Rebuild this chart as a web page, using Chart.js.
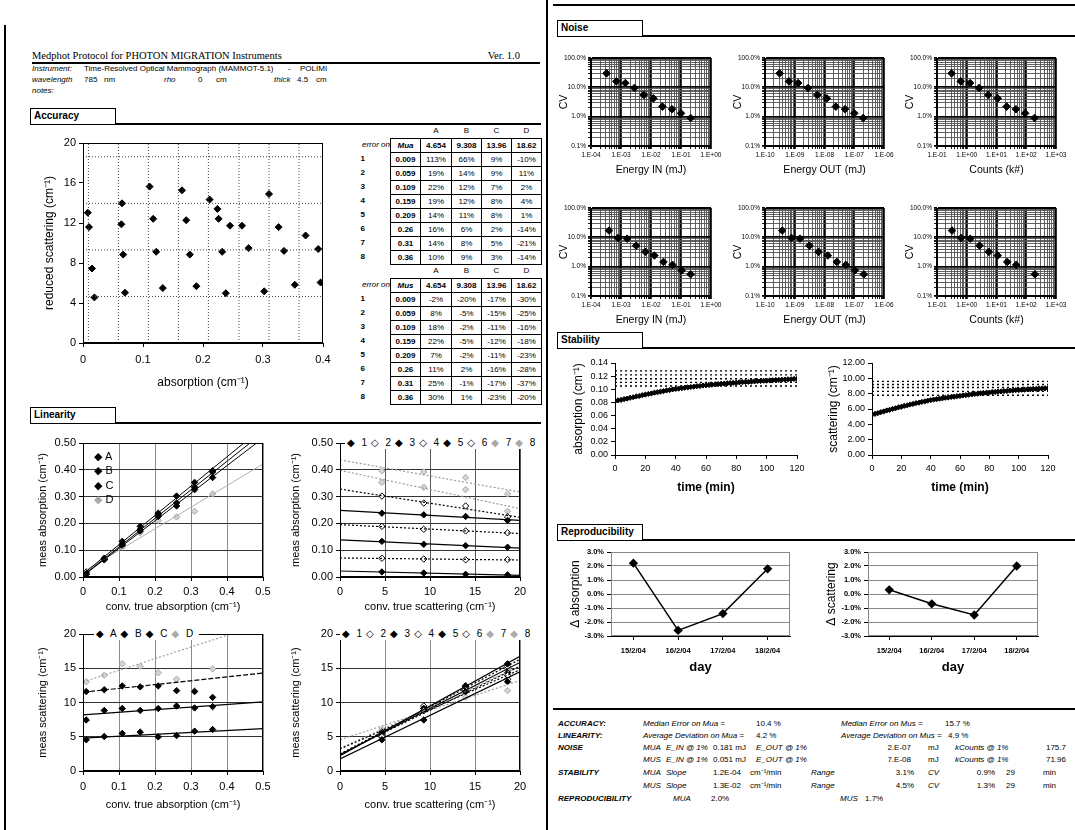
<!DOCTYPE html>
<html>
<head>
<meta charset="utf-8">
<script src="https://cdn.jsdelivr.net/npm/chart.js"></script>
<style>
html,body{margin:0;padding:0;background:#fff}
body{width:1075px;height:830px;position:relative;overflow:hidden;font-family:"Liberation Sans",Arial,sans-serif;color:#000}
.t{position:absolute;white-space:nowrap;line-height:1;z-index:3}
canvas{position:absolute;z-index:1}
.rule{position:absolute;background:#000;z-index:2}
.hbox{position:absolute;border:1.5px solid #000;border-bottom:none;background:#fff;font-weight:bold;font-size:10px;line-height:14px;padding-left:3px;box-sizing:border-box;z-index:3}
.cell{position:absolute;box-sizing:border-box;font-size:8px;line-height:13px;text-align:center;z-index:3;white-space:nowrap}
.box{border:1px solid #000}
.leg{position:absolute;z-index:4;background:#fff;font-size:10px;line-height:12px;white-space:nowrap;padding:0 2px}
.leg span{margin-right:4px}
</style>
</head>
<body>
<script>
// ================= DATA =================
const muaTrue = [0.009, 0.059, 0.109, 0.159, 0.209, 0.26, 0.31, 0.36];
const musTrue = [4.654, 9.308, 13.96, 18.62];
const phantomNames = ['A', 'B', 'C', 'D'];
const mixNames = ['1', '2', '3', '4', '5', '6', '7', '8'];

// error tables (percent)
const errMuaA = [113, 19, 22, 19, 14, 16, 14, 10];
const errMuaB = [66, 14, 12, 12, 11, 6, 8, 9];
const errMuaC = [9, 9, 7, 8, 8, 2, 5, 3];
const errMuaD = [-10, 11, 2, 4, 1, -14, -21, -14];
const errMusA = [-2, 8, 18, 22, 7, 11, 25, 30];
const errMusB = [-20, -5, -2, -5, -2, 2, -1, 1];
const errMusC = [-17, -15, -11, -12, -11, -16, -17, -23];
const errMusD = [-30, -25, -16, -18, -23, -28, -37, -20];

// measured values per phantom series (rows = mua levels 1..8)
const measMuaA = [0.019, 0.070, 0.133, 0.189, 0.238, 0.302, 0.353, 0.396];
const measMuaB = [0.015, 0.067, 0.122, 0.178, 0.232, 0.276, 0.335, 0.392];
const measMuaC = [0.010, 0.064, 0.117, 0.172, 0.226, 0.265, 0.326, 0.371];
const measMuaD = [0.008, 0.065, 0.111, 0.165, 0.211, 0.224, 0.245, 0.310];
const measMusA = [4.56, 5.03, 5.49, 5.68, 4.98, 5.17, 5.82, 6.05];
const measMusB = [7.45, 8.84, 9.12, 8.84, 9.12, 9.49, 9.21, 9.40];
const measMusC = [11.59, 11.87, 12.42, 12.28, 12.42, 11.73, 11.59, 10.75];
const measMusD = [13.03, 13.97, 15.64, 15.27, 14.34, 13.41, 11.73, 14.90];

// trend line end values
const trendAbsX = [0, 0.5];
const trendScaX = [0, 20];
const trendTL = [[0.011, 0.558], [0.0055, 0.5385], [0.0043, 0.5183], [0.0188, 0.4216]];
const trendTR = [[0.0224, 0.0062], [0.0710, 0.0633], [0.1385, 0.1080], [0.1955, 0.1620], [0.2485, 0.2111], [0.3280, 0.2227], [0.3980, 0.2549], [0.4370, 0.3171]];
const trendBL = [[4.8, 6.2], [8.2, 10.1], [11.5, 14.3], [13.0, 21.5]];
const trendBR = [[1.77, 14.47], [2.47, 15.29], [2.23, 16.73], [2.47, 16.30], [2.37, 15.85], [3.21, 14.79], [4.56, 13.20], [3.30, 15.29]];

// noise
const noiseMuaCV = [0.30, 0.16, 0.14, 0.095, 0.055, 0.042, 0.022, 0.018, 0.013, 0.009];
const noiseMusCV = [0.17, 0.095, 0.09, 0.052, 0.032, 0.024, 0.0145, 0.0115, 0.0075, 0.0055];
const noiseMusCntCV = [0.17, 0.095, 0.09, 0.052, 0.032, 0.024, 0.0145, 0.0115, 0.0055];
const eInMua = [3.3e-4, 7e-4, 1.4e-3, 2.8e-3, 5.8e-3, 1.2e-2, 2.4e-2, 5e-2, 1.0e-1, 2.1e-1];
const eOutMua = [3.1e-10, 6.4e-10, 1.3e-9, 2.8e-9, 5.7e-9, 1.2e-8, 2.4e-8, 4.9e-8, 1.0e-7, 2.0e-7];
const cntMua = [0.31, 0.63, 1.3, 2.6, 5.3, 11, 22, 45, 92, 190];
const eInMus = [4e-4, 8e-4, 1.6e-3, 3.2e-3, 6.5e-3, 1.3e-2, 2.6e-2, 5.2e-2, 1.05e-1, 2.1e-1];
const eOutMus = [3.8e-10, 7.8e-10, 1.5e-9, 3.1e-9, 6.3e-9, 1.3e-8, 2.6e-8, 5.2e-8, 1.05e-7, 2.1e-7];
const cntMus = [0.32, 0.65, 1.3, 2.7, 5.5, 11, 23, 46, 195];

// stability
const stabTime = [0,2,4,6,8,10,12,14,16,18,20,22,24,26,28,30,32,34,36,38,40,42,44,46,48,50,52,54,56,58,60,62,64,66,68,70,72,74,76,78,80,82,84,86,88,90,92,94,96,98,100,102,104,106,108,110,112,114,116,118,120];
const stabMua = [0.0820,0.0832,0.0838,0.0851,0.0858,0.0871,0.0879,0.0891,0.0898,0.0911,
  0.0919,0.0929,0.0937,0.0948,0.0955,0.0965,0.0972,0.0982,0.0988,0.0998,
  0.1004,0.1011,0.1016,0.1024,0.1028,0.1035,0.1040,0.1047,0.1050,0.1057,
  0.1060,0.1066,0.1069,0.1075,0.1078,0.1084,0.1086,0.1091,0.1094,0.1099,
  0.1101,0.1106,0.1108,0.1112,0.1114,0.1118,0.1120,0.1124,0.1126,0.1130,
  0.1131,0.1135,0.1137,0.1141,0.1142,0.1146,0.1148,0.1152,0.1153,0.1157,0.1160];
const stabMus = [5.25,5.37,5.46,5.59,5.68,5.81,5.89,6.01,6.09,6.21,
  6.29,6.41,6.48,6.59,6.66,6.77,6.83,6.93,6.99,7.09,
  7.15,7.23,7.27,7.35,7.39,7.47,7.50,7.57,7.60,7.67,
  7.70,7.77,7.80,7.87,7.90,7.97,7.99,8.05,8.07,8.13,
  8.15,8.21,8.23,8.28,8.29,8.34,8.35,8.40,8.41,8.46,
  8.47,8.51,8.52,8.56,8.57,8.61,8.62,8.66,8.67,8.70,8.72];
const stabMuaRef = [0.105, 0.1105, 0.116, 0.122, 0.128];
const stabMusRef = [7.8, 8.3, 8.8, 9.2, 9.6];

// reproducibility (percent)
const reproDays = ['15/2/04', '16/2/04', '17/2/04', '18/2/04'];
const reproMua = [2.2, -2.6, -1.4, 1.8];
const reproMus = [0.3, -0.7, -1.5, 2.0];

// ================= HELPERS =================
function txt(x, y, s, o) {
  o = o || {};
  const d = document.createElement('div');
  d.className = 't';
  const size = o.size || 8;
  d.style.fontSize = size + 'px';
  d.style.left = x + 'px';
  d.style.top = (y - size * 0.5) + 'px';
  if (o.italic) d.style.fontStyle = 'italic';
  if (o.bold) d.style.fontWeight = 'bold';
  if (o.family) d.style.fontFamily = o.family;
  if (o.color) d.style.color = o.color;
  if (o.align === 'right') d.style.transform = 'translateX(-100%)';
  if (o.align === 'center') d.style.transform = 'translateX(-50%)';
  d.innerHTML = s;
  document.body.appendChild(d);
  return d;
}
function rule(x, y, w, h) {
  const d = document.createElement('div');
  d.className = 'rule';
  d.style.left = x + 'px'; d.style.top = y + 'px'; d.style.width = w + 'px'; d.style.height = h + 'px';
  document.body.appendChild(d);
}
function heading(x, y, label, x2) {
  rule(x, y + 15, x2 - x, 2);
  const d = document.createElement('div');
  d.className = 'hbox';
  d.style.left = x + 'px'; d.style.top = y + 'px'; d.style.width = '86px'; d.style.height = '16px';
  d.textContent = label;
  document.body.appendChild(d);
}
function legend(x, y, html) {
  const d = document.createElement('div');
  d.className = 'leg';
  d.style.left = x + 'px'; d.style.top = (y - 6) + 'px';
  d.innerHTML = html;
  document.body.appendChild(d);
}

Chart.defaults.font.family = '"Liberation Sans", Arial, sans-serif';
Chart.defaults.color = '#000';

const framePlugin = {
  id: 'frame',
  afterDatasetsDraw(chart, args, opts) {
    if (!opts || !opts.show) return;
    const a = chart.chartArea, ctx = chart.ctx;
    ctx.save();
    ctx.strokeStyle = opts.color || '#000';
    ctx.lineWidth = opts.width || 1;
    ctx.strokeRect(Math.round(a.left) + 0.5, Math.round(a.top) + 0.5, Math.round(a.right - a.left) - 1, Math.round(a.bottom - a.top) - 1);
    ctx.restore();
  }
};
Chart.register(framePlugin);

function mk(area, pad, type, data, scales, plugins) {
  const [x0, y0, x1, y1] = area;
  const cv = document.createElement('canvas');
  const W = x1 - x0 + pad.l + pad.r, H = y1 - y0 + pad.t + pad.b;
  cv.width = W; cv.height = H;
  cv.style.left = (x0 - pad.l) + 'px'; cv.style.top = (y0 - pad.t) + 'px';
  cv.style.width = W + 'px'; cv.style.height = H + 'px';
  document.body.appendChild(cv);
  scales.x.afterFit = s => { s.height = pad.b; s.paddingLeft = 0; s.paddingRight = 0; };
  scales.y.afterFit = s => { s.width = pad.l; s.paddingTop = 0; s.paddingBottom = 0; };
  return new Chart(cv, {
    type, data,
    options: {
      devicePixelRatio: 1, responsive: false, animation: false, events: [],
      layout: { padding: { left: 0, top: pad.t, right: pad.r, bottom: 0 } },
      scales,
      plugins: Object.assign({ legend: { display: false }, tooltip: { enabled: false } }, plugins || {})
    }
  });
}

function axis(o) {
  const ticks = { font: { size: o.tickSize || 10 }, padding: o.tickPad == null ? 3 : o.tickPad, maxRotation: 0, minRotation: 0, autoSkip: false, color: '#000' };
  if (o.step != null) ticks.stepSize = o.step;
  if (o.fmt) ticks.callback = o.fmt;
  const a = {
    type: o.type || 'linear',
    offset: !!o.offset,
    ticks,
    grid: { display: true, drawOnChartArea: !!o.gridColor, color: o.gridColor || '#000', lineWidth: o.gridWidth || 1, tickLength: o.tickLen == null ? 4 : o.tickLen, tickColor: '#000', drawTicks: true },
    border: { display: true, color: '#000', width: 1 },
    title: { display: !!o.title, text: o.title, font: { size: o.titleSize || 11, weight: o.titleBold ? 'bold' : 'normal' }, padding: 0, color: '#000' }
  };
  if (o.min != null) a.min = o.min;
  if (o.max != null) a.max = o.max;
  return a;
}

const blk = { pointStyle: 'rectRot', backgroundColor: '#000', borderColor: '#000', pointRadius: 3.2, borderWidth: 1 };
const opn = { pointStyle: 'rectRot', backgroundColor: '#fff', borderColor: '#000', pointRadius: 3.2, borderWidth: 1 };
const gry = { pointStyle: 'rectRot', backgroundColor: '#d4d4d4', borderColor: '#a8a8a8', pointRadius: 3.2, borderWidth: 1 };
function pts(xs, ys, st) { return Object.assign({ data: xs.map((x, i) => ({ x, y: ys[i] })), showLine: false }, st); }
function seg(xs, ys, color, dash, w) {
  return { data: [{ x: xs[0], y: ys[0] }, { x: xs[1], y: ys[1] }], showLine: true, pointRadius: 0, borderColor: color, borderWidth: w || 1, borderDash: dash || [], fill: false };
}
const fmt1 = v => String(Math.round(v * 10) / 10);
const fmtInt = v => String(Math.round(v));

// ================= PAGE FRAME =================
rule(4, 25, 1.5, 805);
rule(546, 0, 2, 830);
rule(553, 4, 522, 2);
rule(553, 708, 522, 2);

// header
txt(32, 56, 'Medphot Protocol for PHOTON MIGRATION Instruments', { size: 10.5, family: '"Liberation Serif", "Times New Roman", serif' });
txt(520, 56, 'Ver. 1.0', { size: 10.5, family: '"Liberation Serif", "Times New Roman", serif', align: 'right' });
rule(32, 62, 508, 1.5);
txt(32, 69, 'Instrument:', { italic: true });
txt(84, 69, 'Time-Resolved Optical Mammograph (MAMMOT-5.1)');
txt(288, 69, '-');
txt(300, 69, 'POLIMI');
txt(32, 80, 'wavelength', { italic: true });
txt(84, 80, '785');
txt(104, 80, 'nm');
txt(164, 80, 'rho', { italic: true });
txt(198, 80, '0');
txt(216, 80, 'cm');
txt(274, 80, 'thick', { italic: true });
txt(297, 80, '4.5');
txt(316, 80, 'cm');
txt(32, 91, 'notes:', { italic: true });

heading(30, 108, 'Accuracy', 541);
heading(30, 407, 'Linearity', 541);
heading(557, 20, 'Noise', 1075);
heading(557, 332, 'Stability', 1075);
heading(557, 524, 'Reproducibility', 1075);

// ================= ACCURACY TABLES =================
const colX = [348, 390, 420, 451, 481, 511, 541];
function cell(r, c, text, o) {
  o = o || {};
  const d = document.createElement('div');
  d.className = 'cell' + (o.box ? ' box' : '');
  const top = 124 + 14 * r;
  d.style.left = colX[c] + 'px';
  d.style.top = top + 'px';
  d.style.width = (colX[c + 1] - colX[c] + 1) + 'px';
  d.style.height = '15px';
  if (o.italic) d.style.fontStyle = 'italic';
  if (o.bold) d.style.fontWeight = 'bold';
  if (o.align) { d.style.textAlign = o.align; }
  if (o.padR) d.style.paddingRight = o.padR + 'px';
  d.textContent = text;
  document.body.appendChild(d);
}
function buildTable(r0, muLabel, errs) {
  phantomNames.forEach((n, j) => cell(r0, j + 2, n));
  cell(r0 + 1, 0, 'error on', { italic: true, align: 'right', padR: 1 });
  cell(r0 + 1, 1, muLabel, { box: true, italic: true, bold: true });
  musTrue.forEach((v, j) => cell(r0 + 1, j + 2, String(v), { box: true, bold: true }));
  muaTrue.forEach((v, i) => {
    cell(r0 + 2 + i, 0, mixNames[i], { align: 'right', padR: 26, bold: true });
    cell(r0 + 2 + i, 1, String(v), { box: true, bold: true });
    errs.forEach((arr, j) => cell(r0 + 2 + i, j + 2, arr[i] + '%', { box: true }));
  });
}
buildTable(0, 'Mua', [errMuaA, errMuaB, errMuaC, errMuaD]);
buildTable(10, 'Mus', [errMusA, errMusB, errMusC, errMusD]);

const measMua = [measMuaA, measMuaB, measMuaC, measMuaD];
const measMus = [measMusA, measMusB, measMusC, measMusD];

// ================= ACCURACY SCATTER =================
(function () {
  const sets = [];
  muaTrue.forEach(v => sets.push({ data: [{ x: v, y: 0 }, { x: v, y: 20 }], showLine: true, pointRadius: 0, borderColor: '#444', borderWidth: 1, borderDash: [1, 2] }));
  musTrue.forEach(v => sets.push({ data: [{ x: 0, y: v }, { x: 0.4, y: v }], showLine: true, pointRadius: 0, borderColor: '#444', borderWidth: 1, borderDash: [1, 2] }));
  measMua.forEach((m, k) => sets.push(pts(m, measMus[k], Object.assign({}, blk, { pointRadius: 3.5 }))));
  mk([83, 143, 323, 343], { l: 41, t: 8, r: 16, b: 47 }, 'scatter', { datasets: sets }, {
    x: axis({ min: 0, max: 0.4, step: 0.1, fmt: fmt1, tickSize: 11, tickPad: 6, title: 'absorption (cm⁻¹)', titleSize: 12 }),
    y: axis({ min: 0, max: 20, step: 4, fmt: fmtInt, tickSize: 11, tickPad: 3, title: 'reduced scattering (cm⁻¹)', titleSize: 12 })
  }, { frame: { show: true } });
})();

// ================= LINEARITY =================
const mixPointStyle = [blk, opn, blk, opn, blk, opn, gry, gry];
const mixLine = [['#000', []], ['#000', [2, 2]], ['#000', []], ['#000', [2, 2]], ['#000', []], ['#000', [2, 2]], ['#9a9a9a', [2, 2]], ['#9a9a9a', [2, 2]]];

(function () { // TL
  const sets = [];
  trendTL.forEach((t, k) => sets.push(seg(trendAbsX, t, k < 3 ? '#000' : '#b0b0b0', [], 1)));
  measMua.forEach((m, k) => sets.push(pts(muaTrue, m, k < 3 ? blk : gry)));
  mk([83, 443, 263, 577], { l: 47, t: 6, r: 14, b: 37 }, 'scatter', { datasets: sets }, {
    x: axis({ min: 0, max: 0.5, step: 0.1, fmt: fmt1, tickSize: 11, tickPad: 4, gridColor: '#8a8a8a', title: 'conv. true absorption (cm⁻¹)', titleSize: 11 }),
    y: axis({ min: 0, max: 0.5, step: 0.1, fmt: v => v.toFixed(2), tickSize: 11, gridColor: '#333', title: 'meas absorption (cm⁻¹)', titleSize: 11 })
  }, { frame: { show: true } });
})();

(function () { // TR
  const sets = [];
  trendTR.forEach((t, k) => sets.push(seg(trendScaX, t, mixLine[k][0], mixLine[k][1], 1.2)));
  mixNames.forEach((n, i) => sets.push(pts(musTrue, measMua.map(m => m[i]), mixPointStyle[i])));
  mk([340, 443, 520, 577], { l: 51, t: 6, r: 14, b: 37 }, 'scatter', { datasets: sets }, {
    x: axis({ min: 0, max: 20, step: 5, fmt: fmtInt, tickSize: 11, tickPad: 4, gridColor: '#555', title: 'conv. true scattering (cm⁻¹)', titleSize: 11 }),
    y: axis({ min: 0, max: 0.5, step: 0.1, fmt: v => v.toFixed(2), tickSize: 11, gridColor: '#333', title: 'meas absorption (cm⁻¹)', titleSize: 11 })
  }, { frame: { show: true } });
})();

(function () { // BL
  const sets = [];
  const st = [['#000', []], ['#000', []], ['#000', [5, 2]], ['#a0a0a0', [2, 2]]];
  trendBL.forEach((t, k) => sets.push(seg(trendAbsX, t, st[k][0], st[k][1], 1.2)));
  measMus.forEach((m, k) => sets.push(pts(muaTrue, m, k < 3 ? blk : gry)));
  mk([83, 634, 263, 771], { l: 47, t: 6, r: 14, b: 41 }, 'scatter', { datasets: sets }, {
    x: axis({ min: 0, max: 0.5, step: 0.1, fmt: fmt1, tickSize: 11, tickPad: 5, gridColor: '#8a8a8a', title: 'conv. true absorption (cm⁻¹)', titleSize: 11 }),
    y: axis({ min: 0, max: 20, step: 5, fmt: fmtInt, tickSize: 11, gridColor: '#333', title: 'meas scattering (cm⁻¹)', titleSize: 11 })
  }, { frame: { show: true } });
})();

(function () { // BR
  const sets = [];
  trendBR.forEach((t, k) => sets.push(seg(trendScaX, t, mixLine[k][0], mixLine[k][1], 1.2)));
  mixNames.forEach((n, i) => sets.push(pts(musTrue, measMus.map(m => m[i]), mixPointStyle[i])));
  mk([340, 634, 520, 771], { l: 51, t: 6, r: 14, b: 41 }, 'scatter', { datasets: sets }, {
    x: axis({ min: 0, max: 20, step: 5, fmt: fmtInt, tickSize: 11, tickPad: 5, gridColor: '#8a8a8a', title: 'conv. true scattering (cm⁻¹)', titleSize: 11 }),
    y: axis({ min: 0, max: 20, step: 5, fmt: fmtInt, tickSize: 11, gridColor: '#333', title: 'meas scattering (cm⁻¹)', titleSize: 11 })
  }, { frame: { show: true } });
})();

// linearity legends
const dBlk = '<span style="font-family:DejaVu Sans">&#9670;</span>';
const dOpn = '<span style="font-family:DejaVu Sans">&#9671;</span>';
const dGry = '<span style="font-family:DejaVu Sans;color:#aaa">&#9670;</span>';
[['A', dBlk], ['B', dBlk], ['C', dBlk], ['D', dGry]].forEach((it, k) => {
  const d = txt(94, 456 + 14.5 * k, it[1] + ' ' + it[0], { size: 11 });
  d.style.zIndex = 4;
});
const mixLegHtml = mixNames.map((n, i) => '<span>' + (i >= 6 ? dGry : (i % 2 ? dOpn : dBlk)) + ' ' + n + '</span>').join('');
legend(345, 443, mixLegHtml);
legend(340, 634, mixLegHtml);
legend(94, 634, phantomNames.map((n, k) => '<span>' + (k < 3 ? dBlk : dGry) + ' ' + n + '</span>').join(''));

// ================= NOISE =================
function isPow10(v) { const l = Math.log10(v); return Math.abs(l - Math.round(l)) < 1e-6; }
function logTicks(e0, e1) {
  const t = [];
  for (let e = e0; e < e1; e++) for (let s = 1; s < 10; s++) t.push({ value: s * Math.pow(10, e) });
  t.push({ value: Math.pow(10, e1) });
  return t;
}
function expLabel(v) {
  const e = Math.round(Math.log10(v));
  const a = Math.abs(e);
  return '1.E' + (e < 0 ? '-' : '+') + (a < 10 ? '0' + a : a);
}
function logAxis(e0, e1, fmt, title) {
  return {
    type: 'logarithmic', min: Math.pow(10, e0), max: Math.pow(10, e1),
    afterBuildTicks: s => { s.ticks = logTicks(e0, e1); },
    ticks: { autoSkip: false, maxRotation: 0, minRotation: 0, font: { size: 6.5 }, padding: 2, color: '#000', callback: v => isPow10(v) ? fmt(v) : '' },
    grid: {
      drawOnChartArea: true, tickLength: 3, tickColor: '#000',
      color: c => (c.tick && isPow10(c.tick.value)) ? '#000' : '#505050',
      lineWidth: c => (c.tick && isPow10(c.tick.value)) ? 1.8 : 0.9
    },
    border: { display: true, color: '#000', width: 1 },
    title: { display: !!title, text: title, font: { size: 10.5 }, padding: 0, color: '#000' }
  };
}
function noiseChart(area, e0, e1, xs, cvs, title) {
  const ds = [Object.assign(pts(xs, cvs, blk), { pointRadius: 3.8 })];
  mk(area, { l: 33, t: 6, r: 14, b: 30 }, 'scatter', { datasets: ds }, {
    x: logAxis(e0, e1, expLabel, title),
    y: logAxis(-3, 0, v => (v * 100).toFixed(1) + '%', 'CV')
  }, { frame: { show: true } });
}
const nCols = [[591, 711], [765, 884], [937, 1056]];
const nRows = [[58, 146], [208, 296]];
noiseChart([nCols[0][0], nRows[0][0], nCols[0][1], nRows[0][1]], -4, 0, eInMua, noiseMuaCV, 'Energy IN (mJ)');
noiseChart([nCols[1][0], nRows[0][0], nCols[1][1], nRows[0][1]], -10, -6, eOutMua, noiseMuaCV, 'Energy OUT (mJ)');
noiseChart([nCols[2][0], nRows[0][0], nCols[2][1], nRows[0][1]], -1, 3, cntMua, noiseMuaCV, 'Counts (k#)');
noiseChart([nCols[0][0], nRows[1][0], nCols[0][1], nRows[1][1]], -4, 0, eInMus, noiseMusCV, 'Energy IN (mJ)');
noiseChart([nCols[1][0], nRows[1][0], nCols[1][1], nRows[1][1]], -10, -6, eOutMus, noiseMusCV, 'Energy OUT (mJ)');
noiseChart([nCols[2][0], nRows[1][0], nCols[2][1], nRows[1][1]], -1, 3, cntMus, noiseMusCntCV, 'Counts (k#)');

// ================= STABILITY =================
function stabChart(area, padL, vals, refs, yMax, yStep, ytitle) {
  const sets = [];
  refs.forEach(v => sets.push({ data: [{ x: 0, y: v }, { x: 120, y: v }], showLine: true, pointRadius: 0, borderColor: '#000', borderWidth: 1.4, borderDash: [2, 3] }));
  sets.push(pts(stabTime, vals, Object.assign({}, blk, { pointRadius: 2.6 })));
  mk(area, { l: padL, t: 6, r: 12, b: 40 }, 'scatter', { datasets: sets }, {
    x: axis({ min: 0, max: 120, step: 20, fmt: fmtInt, tickSize: 9, tickPad: 4, title: 'time (min)', titleSize: 12, titleBold: true }),
    y: axis({ min: 0, max: yMax, step: yStep, fmt: v => v.toFixed(2), tickSize: 9, tickPad: 3, title: ytitle, titleSize: 12 })
  });
}
stabChart([615, 363, 797, 455], 44, stabMua, stabMuaRef, 0.14, 0.02, 'absorption (cm⁻¹)');
stabChart([872, 363, 1048, 455], 46, stabMus, stabMusRef, 12, 2, 'scattering (cm⁻¹)');

// ================= REPRODUCIBILITY =================
function reproChart(area, padL, vals, ytitle) {
  const ds = [{ data: vals, borderColor: '#000', borderWidth: 1.5, pointStyle: 'rectRot', pointRadius: 3.6, pointBackgroundColor: '#000', pointBorderColor: '#000', tension: 0, fill: false }];
  const x = axis({ type: 'category', offset: true, tickSize: 7.5, tickPad: 6, title: 'day', titleSize: 13, titleBold: true });
  x.ticks.font.weight = 'bold';
  const y = axis({ min: -3, max: 3, step: 1, fmt: v => v.toFixed(1) + '%', tickSize: 7.5, tickPad: 3, gridColor: '#888', title: ytitle, titleSize: 12 });
  y.ticks.font.weight = 'bold';
  mk(area, { l: padL, t: 6, r: 10, b: 39 }, 'line', { labels: reproDays, datasets: ds }, { x, y }, { frame: { show: true, color: '#888' } });
}
reproChart([611, 552, 790, 636], 43, reproMua, 'Δ absorption');
reproChart([868, 552, 1038, 636], 44, reproMus, 'Δ scattering');

// ================= SUMMARY =================
const sy = [724, 736, 748, 760, 773, 786, 799];
const S = 8;
txt(558, sy[0], 'ACCURACY:', { size: S, bold: true, italic: true });
txt(643, sy[0], 'Median Error on Mua =', { size: S, italic: true });
txt(756, sy[0], '10.4 %', { size: S });
txt(841, sy[0], 'Median Error on Mus =', { size: S, italic: true });
txt(945, sy[0], '15.7 %', { size: S });
txt(558, sy[1], 'LINEARITY:', { size: S, bold: true, italic: true });
txt(643, sy[1], 'Average Deviation on Mua =', { size: S, italic: true });
txt(756, sy[1], '4.2 %', { size: S });
txt(841, sy[1], 'Average Deviation on Mus =', { size: S, italic: true });
txt(948, sy[1], '4.9 %', { size: S });
txt(558, sy[2], 'NOISE', { size: S, bold: true, italic: true });
[['MUA', '0.181 mJ', '2.E-07', '175.7'], ['MUS', '0.051 mJ', '7.E-08', '71.96']].forEach((r, k) => {
  const y = sy[2 + k];
  txt(643, y, r[0], { size: S, italic: true });
  txt(666, y, 'E_IN @ 1%', { size: S, italic: true });
  txt(713, y, r[1], { size: S });
  txt(756, y, 'E_OUT @ 1%', { size: S, italic: true });
  txt(911, y, r[2], { size: S, align: 'right' });
  txt(928, y, 'mJ', { size: S });
  txt(955, y, 'kCounts @ 1%', { size: S, italic: true });
  txt(1066, y, r[3], { size: S, align: 'right' });
});
txt(558, sy[4], 'STABILITY', { size: S, bold: true, italic: true });
[['MUA', '1.2E-04', '3.1%', '0.9%'], ['MUS', '1.3E-02', '4.5%', '1.3%']].forEach((r, k) => {
  const y = sy[4 + k];
  txt(643, y, r[0], { size: S, italic: true });
  txt(666, y, 'Slope', { size: S, italic: true });
  txt(713, y, r[1], { size: S });
  txt(750, y, 'cm⁻¹/min', { size: S });
  txt(811, y, 'Range', { size: S, italic: true });
  txt(914, y, r[2], { size: S, align: 'right' });
  txt(928, y, 'CV', { size: S, italic: true });
  txt(995, y, r[3], { size: S, align: 'right' });
  txt(1006, y, '29', { size: S });
  txt(1043, y, 'min', { size: S });
});
txt(558, sy[6], 'REPRODUCIBILITY', { size: S, bold: true, italic: true });
txt(673, sy[6], 'MUA', { size: S, italic: true });
txt(711, sy[6], '2.0%', { size: S });
txt(840, sy[6], 'MUS', { size: S, italic: true });
txt(865, sy[6], '1.7%', { size: S });
</script>
</body>
</html>
